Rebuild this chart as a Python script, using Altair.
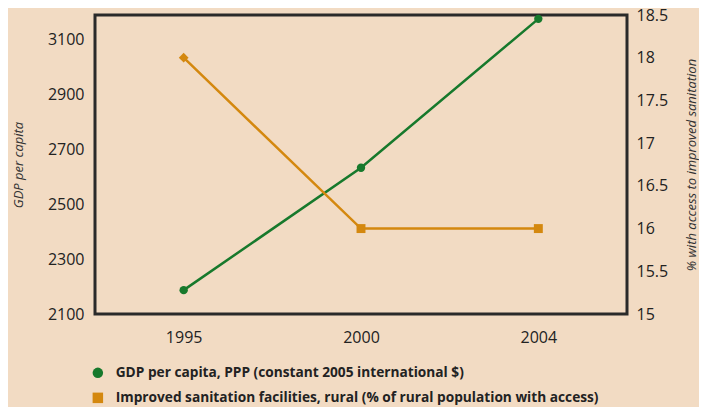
import altair as alt
import pandas as pd

years = ["1995", "2000", "2004"]
gdp = [2187, 2633, 3176]
sanitation = [18.0, 16.0, 16.0]
sanit_markers = ["diamond", "square", "square"]

gdp_name = "GDP per capita, PPP (constant 2005 international $)"
san_name = "Improved sanitation facilities, rural (% of rural population with access)"

green = "#17792c"
orange = "#d4880f"
bg = "#f2dbc3"
font = "Open Sans"

gdp_df = pd.DataFrame({"year": years, "value": gdp, "series": gdp_name})
san_df = pd.DataFrame({"year": years, "value": sanitation, "series": san_name,
                       "marker": sanit_markers})

x_enc = alt.X("year:O", scale=alt.Scale(padding=0.5),
              axis=alt.Axis(title=None, labelAngle=0, ticks=False, domain=False,
                            labelPadding=15, labelFontSize=16, labelColor="#222",
                            labelFont=font))

color_scale = alt.Scale(domain=[gdp_name, san_name], range=[green, orange])
shape_scale = alt.Scale(domain=[gdp_name, san_name], range=["circle", "square"])
legend = alt.Legend(title=None, orient="none", legendX=-4, legendY=351,
                    direction="vertical", labelFontSize=13.7, labelFontWeight="bold",
                    labelFont=font, labelColor="#222", symbolSize=110,
                    symbolOpacity=1, rowPadding=10, labelLimit=600, symbolStrokeWidth=0,
                    labelOffset=11)

y_left = alt.Y("value:Q", scale=alt.Scale(domain=[2100, 3190], nice=False, zero=False),
               axis=alt.Axis(title="GDP per capita", values=[2100, 2300, 2500, 2700, 2900, 3100],
                             format="d", orient="left", ticks=False, domain=False, grid=False,
                             labelPadding=11, labelFontSize=16, labelColor="#222",
                             labelFont=font, titleFont=font, titleFontSize=13,
                             titleFontStyle="italic", titleFontWeight="normal",
                             titleColor="#333", titlePadding=22))

y_right = alt.Y("value:Q", scale=alt.Scale(domain=[15, 18.5], nice=False, zero=False),
                axis=alt.Axis(title="% with access to improved sanitation",
                              values=[15, 15.5, 16, 16.5, 17, 17.5, 18, 18.5],
                              format="~g", orient="right", ticks=False, domain=False,
                              grid=False, labelPadding=9, labelFontSize=16,
                              labelColor="#222", labelFont=font, titleFont=font,
                              titleFontSize=13, titleFontStyle="italic",
                              titleFontWeight="normal", titleColor="#333",
                              titleAngle=270, titlePadding=31))

gdp_line = alt.Chart(gdp_df).mark_line(strokeWidth=2.5).encode(
    x=x_enc, y=y_left, color=alt.value(green))
gdp_pts = alt.Chart(gdp_df).mark_point(filled=True, size=70, opacity=1).encode(
    x=x_enc, y=y_left,
    color=alt.Color("series:N", scale=color_scale, legend=legend, sort=[gdp_name, san_name]),
    shape=alt.Shape("series:N", scale=shape_scale, legend=legend, sort=[gdp_name, san_name]))
left = alt.layer(gdp_line, gdp_pts)

san_line = alt.Chart(san_df).mark_line(strokeWidth=2.5).encode(
    x=x_enc, y=y_right, color=alt.value(orange))
san_pts = alt.Chart(san_df).transform_filter(alt.datum.marker == "square").mark_point(
    filled=True, size=80, opacity=1).encode(
    x=x_enc, y=y_right,
    color=alt.Color("series:N", scale=color_scale, legend=legend, sort=[gdp_name, san_name]),
    shape=alt.Shape("series:N", scale=shape_scale, legend=legend, sort=[gdp_name, san_name]))
san_diamond = alt.Chart(san_df).transform_filter(alt.datum.marker == "diamond").mark_point(
    filled=True, size=95, opacity=1, shape="diamond").encode(
    x=x_enc, y=y_right, color=alt.value(orange))
right = alt.layer(san_line, san_pts, san_diamond)

chart = alt.layer(left, right).resolve_scale(y="independent").properties(
    width=532, height=299, background=bg,
    autosize=alt.AutoSizeParams(type="none"),
    padding={"left": 87, "top": 7, "right": 72, "bottom": 96},
).configure_view(stroke="#2a2a2a", strokeWidth=3)

chart.save("out.html", embed_options={"renderer": "svg", "actions": False})
